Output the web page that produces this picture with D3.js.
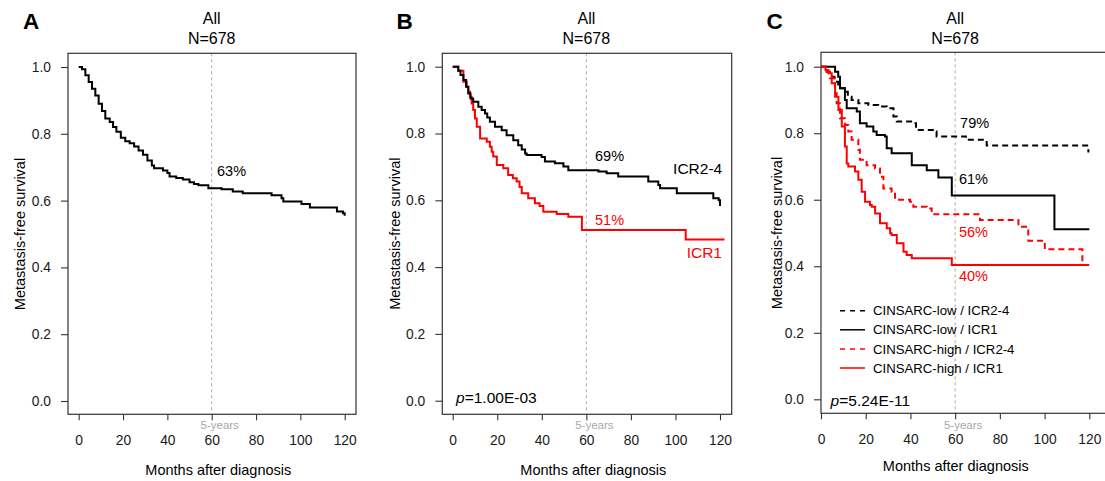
<!DOCTYPE html>
<html lang="en">
<head>
<meta charset="UTF-8">
<title>Metastasis-free survival by ICR and CINSARC</title>
<script src="https://d3js.org/d3.v7.min.js"></script>
<style>
  body { margin: 0; background: #fff; font-family: "Liberation Sans", Arial, sans-serif; }
  .axis line { stroke: #333; stroke-width: 1.1; }
  .axis path { display: none; }
</style>
</head>
<body>
<svg id="chart" width="1105" height="481"></svg>
<script>
// axis ticks
const monthTicks = [0, 20, 40, 60, 80, 100, 120];
const survTicks = [0, 0.2, 0.4, 0.6, 0.8, 1.0];
const landmark = 60;

// Kaplan-Meier steps, [month, survival] (value holds until next point)
const curveAll = [[0,1],[1.5,0.993],[3,0.975],[4.5,0.955],[6,0.935],[7.5,0.915],[9,0.89],[10.5,0.868],
  [12,0.846],[14,0.835],[15.5,0.82],[17,0.806],[19,0.788],[21,0.778],[23,0.772],[25,0.762],[27,0.75],
  [29,0.737],[31,0.72],[33,0.705],[34,0.697],[38,0.69],[40,0.683],[41,0.672],[44,0.668],[47,0.663],
  [50,0.655],[52,0.65],[54,0.646],[58.5,0.637],[64.5,0.634],[69.5,0.627],[74,0.622],[87,0.616],
  [91.5,0.607],[92.3,0.597],[100.5,0.59],[104.3,0.579],[116.5,0.567],[119.2,0.562],[120,0.555]];

const curveIcr24 = [[0,1],[2.5,0.988],[3.5,0.975],[4.8,0.96],[6,0.94],[7,0.92],[8,0.905],[9.2,0.895],
  [11.5,0.88],[13,0.87],[14.5,0.86],[15.5,0.848],[16.7,0.835],[19,0.82],[22,0.81],[24.2,0.795],
  [27.2,0.78],[29.4,0.765],[31,0.752],[32.5,0.74],[33.2,0.736],[39.9,0.73],[41.4,0.716],[45.9,0.711],
  [49.7,0.701],[51.9,0.69],[65.4,0.686],[69.1,0.681],[74.3,0.671],[87.8,0.656],[92.3,0.646],
  [93.1,0.636],[100.6,0.621],[117,0.606],[119.4,0.6],[120,0.583]];

const curveIcr1 = [[0,1],[2.5,0.988],[4.8,0.955],[6.3,0.94],[7,0.925],[7.8,0.91],[8.5,0.89],[9.2,0.87],
  [10,0.845],[10.8,0.82],[12.3,0.785],[15.3,0.775],[16.7,0.76],[17.5,0.745],[18.2,0.731],[19.8,0.706],
  [22.7,0.696],[24.9,0.676],[27,0.666],[28.7,0.656],[30,0.64],[31,0.621],[33.9,0.606],[36.9,0.591],
  [39,0.583],[40.7,0.566],[46.7,0.559],[51.9,0.551],[58,0.511],[104.6,0.483],[122,0.483]];

const curveLowIcr24 = [[0,1],[2.5,0.985],[4,0.97],[6,0.955],[7.7,0.935],[10.7,0.925],[12,0.91],
  [13.7,0.9],[16.7,0.89],[21.2,0.885],[25.6,0.88],[29.4,0.875],[32.4,0.85],[33.9,0.835],[41.3,0.83],
  [42.5,0.81],[50.5,0.805],[51.7,0.79],[64.8,0.78],[74.1,0.763],[119.6,0.745],[120,0.745]];

const curveLowIcr1 = [[0,1],[6.3,0.985],[7.7,0.97],[8.5,0.935],[10.7,0.9],[11.5,0.875],[16,0.865],
  [17.4,0.83],[20.4,0.82],[23.4,0.805],[24.9,0.795],[28.6,0.79],[29.4,0.755],[31.6,0.74],[40.6,0.704],
  [47.3,0.689],[52.5,0.667],[58.5,0.613],[104.4,0.511],[120,0.511]];

const curveHighIcr24 = [[0,1],[2,0.985],[4,0.965],[6.3,0.92],[7,0.89],[8.5,0.845],[10.7,0.825],
  [12.2,0.805],[13.7,0.78],[16.7,0.75],[17.4,0.72],[20.4,0.704],[24.2,0.694],[26.4,0.669],[27.9,0.634],
  [31.6,0.624],[33.1,0.6],[39.8,0.594],[41.3,0.579],[47.3,0.574],[49.5,0.556],[71.1,0.539],
  [88.3,0.519],[92.7,0.477],[100.1,0.451],[116.9,0.404],[120,0.404]];

const curveHighIcr1 = [[0,1],[2,0.99],[3.3,0.98],[4.8,0.95],[6.3,0.91],[7.8,0.87],[9.3,0.82],
  [10.7,0.76],[11.5,0.709],[12.2,0.7],[15.2,0.685],[16.7,0.66],[18.2,0.624],[19.7,0.594],[21.9,0.584],
  [22.7,0.579],[24.2,0.559],[26.4,0.529],[29.4,0.514],[30.9,0.499],[31.6,0.494],[33.9,0.469],
  [36.9,0.444],[38.3,0.434],[40.6,0.424],[58.5,0.404],[120,0.404]];

const legendLabels = ["CINSARC-low / ICR2-4", "CINSARC-low / ICR1", "CINSARC-high / ICR2-4", "CINSARC-high / ICR1"];

const RED = "#ff0000", BLACK = "#000";
const DASH = "6,4";
const FONT = '"Liberation Sans", Arial, sans-serif';

const svg = d3.select("#chart");

function drawPanel(p) {
  const x = d3.scaleLinear().domain([0, 120]).range(p.xRange);
  const y = d3.scaleLinear().domain([0, 1]).range(p.yRange);
  const g = svg.append("g");
  const [bx0, by0, bx1, by1] = p.box;

  // 5-year reference line
  g.append("line")
    .attr("x1", x(landmark)).attr("x2", x(landmark))
    .attr("y1", by0).attr("y2", by1)
    .attr("stroke", "#aaa").attr("stroke-width", 1).attr("stroke-dasharray", "3,3");
  g.append("text")
    .attr("x", x(landmark) + 8).attr("y", 429)
    .attr("text-anchor", "middle")
    .style("font-size", "11.5px").style("fill", "#a8a8a8")
    .text("5-years");

  // axes (font set on the group, the axis default is 10px sans-serif)
  const xAxis = g.append("g").attr("class", "axis")
    .attr("transform", `translate(0,${by1})`)
    .call(d3.axisBottom(x).tickValues(monthTicks).tickSize(6).tickPadding(15).tickFormat(d3.format("d")));
  const yAxis = g.append("g").attr("class", "axis")
    .attr("transform", `translate(${bx0},0)`)
    .call(d3.axisLeft(y).tickValues(survTicks).tickSize(7).tickPadding(10).tickFormat(d3.format(".1f")));
  [xAxis, yAxis].forEach(a => {
    a.attr("font-size", 13.8).attr("font-family", FONT);
    a.selectAll("text").attr("fill", "#1a1a1a");
  });

  // box
  g.append("rect")
    .attr("x", bx0).attr("y", by0)
    .attr("width", bx1 - bx0).attr("height", by1 - by0)
    .attr("fill", "none").attr("stroke", "#333").attr("stroke-width", 1.2);

  // survival curves
  const line = d3.line().x(d => x(d[0])).y(d => y(d[1])).curve(d3.curveStepAfter);
  p.curves.forEach(c => {
    g.append("path")
      .attr("d", line(c.data))
      .attr("fill", "none")
      .attr("stroke", c.color)
      .attr("stroke-width", 2)
      .attr("stroke-dasharray", c.dash || null);
  });

  // titles
  g.append("text").attr("x", x(landmark)).attr("y", 23.5).attr("text-anchor", "middle")
    .style("font-size", "16px").text("All");
  g.append("text").attr("x", x(landmark)).attr("y", 43.5).attr("text-anchor", "middle")
    .style("font-size", "16px").text("N=678");
  g.append("text").attr("x", p.letterX).attr("y", 29.3)
    .style("font-size", "22.5px").style("font-weight", "bold").text(p.letter);

  // axis titles
  g.append("text")
    .attr("transform", `translate(${p.yLabelX},${(p.yRange[0] + p.yRange[1]) / 2}) rotate(-90)`)
    .attr("text-anchor", "middle").attr("dominant-baseline", "central")
    .style("font-size", "14.5px").text("Metastasis-free survival");
  g.append("text")
    .attr("x", p.xLabelX).attr("y", p.xLabelY).attr("text-anchor", "middle")
    .style("font-size", "14.5px").text("Months after diagnosis");

  // annotations
  (p.notes || []).forEach(n => {
    g.append("text")
      .attr("x", x(n.at[0])).attr("y", y(n.at[1]))
      .attr("text-anchor", n.anchor || "start")
      .style("font-size", n.size || "14.5px")
      .style("fill", n.color || BLACK)
      .text(n.text);
  });

  if (p.pval) {
    const t = g.append("text").attr("x", x(p.pval.at[0])).attr("y", y(p.pval.at[1]))
      .style("font-size", "15.5px");
    t.append("tspan").style("font-style", "italic").text("p");
    t.append("tspan").text("=" + p.pval.text);
  }

  if (p.legend) {
    const lx = bx0 + 19;
    p.legend.forEach((lab, i) => {
      const cy = 310.7 + i * 19.1;
      const c = p.curves[i];
      g.append("line")
        .attr("x1", lx).attr("x2", lx + 25).attr("y1", cy).attr("y2", cy)
        .attr("stroke", c.color).attr("stroke-width", 1.5)
        .attr("stroke-dasharray", c.dash ? "5,5" : null);
      g.append("text")
        .attr("x", lx + 33).attr("y", cy + 4.6)
        .style("font-size", "13.2px").text(lab);
    });
  }
}

drawPanel({
  letter: "A", letterX: 23,
  xRange: [78.7, 344.7], yRange: [401, 67],
  box: [68, 53.3, 356, 414.3],
  yLabelX: 20, xLabelX: 218.3, xLabelY: 475,
  curves: [{ data: curveAll, color: BLACK }],
  notes: [{ text: "63%", at: [62.4, 0.675] }]
});

drawPanel({
  letter: "B", letterX: 396.5,
  xRange: [452.7, 720], yRange: [400.7, 66.7],
  box: [442.3, 53.3, 731.7, 414.3],
  yLabelX: 395, xLabelX: 593.3, xLabelY: 475,
  curves: [{ data: curveIcr1, color: RED }, { data: curveIcr24, color: BLACK }],
  notes: [
    { text: "69%", at: [63.9, 0.719] },
    { text: "ICR2-4", at: [121, 0.68], anchor: "end", size: "15.5px" },
    { text: "51%", at: [63.9, 0.5275], color: RED },
    { text: "ICR1", at: [120.9, 0.426], anchor: "end", size: "15.5px", color: RED }
  ],
  pval: { text: "1.00E-03", at: [1.5, -0.008] }
});

drawPanel({
  letter: "C", letterX: 766.5,
  xRange: [821, 1089.3], yRange: [399.3, 66.7],
  box: [821, 52.3, 1112, 413.3],
  yLabelX: 777, xLabelX: 955.8, xLabelY: 471,
  curves: [
    { data: curveLowIcr24, color: BLACK, dash: DASH },
    { data: curveLowIcr1, color: BLACK },
    { data: curveHighIcr24, color: RED, dash: DASH },
    { data: curveHighIcr1, color: RED }
  ],
  notes: [
    { text: "79%", at: [62.2, 0.816] },
    { text: "61%", at: [61.7, 0.646] },
    { text: "56%", at: [61.7, 0.489], color: RED },
    { text: "40%", at: [61.7, 0.356], color: RED }
  ],
  legend: legendLabels,
  pval: { text: "5.24E-11", at: [4.3, -0.02] }
});
</script>
</body>
</html>
